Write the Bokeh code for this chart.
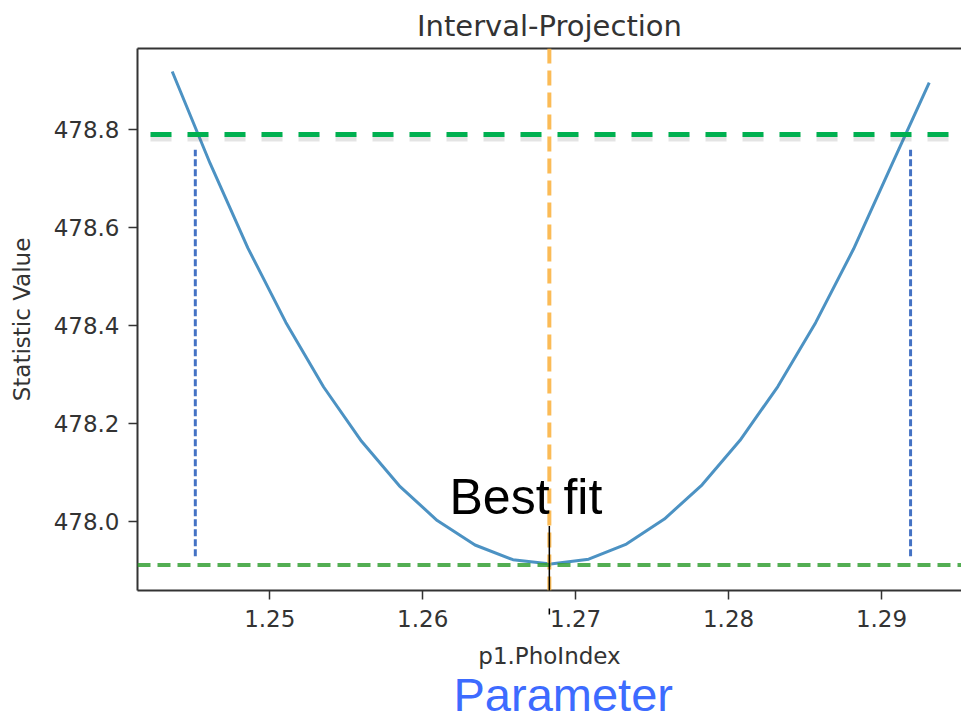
from bokeh.plotting import figure
from bokeh.models import (Span, Label, Arrow, NormalHead, LinearAxis,
                          FixedTicker, Range1d, Title)
from bokeh.embed import file_html
from bokeh.resources import INLINE

# Interval projection of the fit statistic over p1.PhoIndex
phoindex = [1.24362, 1.24610, 1.24857, 1.25105, 1.25352, 1.25600, 1.25847,
            1.26095, 1.26342, 1.26590, 1.26837, 1.27085, 1.27332, 1.27580,
            1.27827, 1.28075, 1.28322, 1.28570, 1.28817, 1.29065, 1.29312]
statistic = [478.919, 478.731, 478.558, 478.406, 478.274, 478.163, 478.072,
             478.001, 477.951, 477.921, 477.912, 477.922, 477.953, 478.004,
             478.074, 478.165, 478.275, 478.406, 478.556, 478.727, 478.896]

best_fit = 1.26828          # best-fit parameter value
stat_min = 477.910          # statistic at the best fit
stat_level = 478.790        # statistic level defining the interval
interval_lo = 1.24513       # lower interval bound
interval_hi = 1.29190       # upper interval bound
bound_bottom = 477.928
bound_top = 478.759

x_ticks = [1.25, 1.26, 1.27, 1.28, 1.29]
y_ticks = [478.0, 478.2, 478.4, 478.6, 478.8]

X0, X1 = 1.24135, 1.29523
Y0, Y1 = 477.858, 478.966

AX_FONT = "DejaVu Sans"
AX_COLOR = "#333333"

p = figure(width=961, height=721, output_backend="svg", toolbar_location=None,
           x_range=Range1d(X0, X1), y_range=Range1d(Y0, Y1),
           title="Interval-Projection",
           min_border_left=137, min_border_right=0, min_border_top=48,
           min_border_bottom=131)
p.outline_line_color = None
p.grid.visible = False
p.background_fill_color = "white"
p.border_fill_color = "white"

p.title.align = "center"
p.title.text_font = AX_FONT
p.title.text_font_style = "normal"
p.title.text_font_size = "29px"
p.title.text_color = AX_COLOR
p.title.standoff = 11

for ax in (p.xaxis[0], p.yaxis[0]):
    ax.axis_line_color = AX_COLOR
    ax.axis_line_width = 2
    ax.major_tick_line_color = AX_COLOR
    ax.major_tick_line_width = 1.5
    ax.major_tick_out = 9
    ax.major_tick_in = 0
    ax.minor_tick_line_color = None
    ax.major_label_text_font = AX_FONT
    ax.major_label_text_font_size = "23px"
    ax.major_label_text_color = AX_COLOR
    ax.axis_label_text_font = AX_FONT
    ax.axis_label_text_font_style = "normal"
    ax.axis_label_text_font_size = "23px"
    ax.axis_label_text_color = AX_COLOR

p.xaxis[0].ticker = FixedTicker(ticks=x_ticks)
p.yaxis[0].ticker = FixedTicker(ticks=y_ticks)
p.yaxis[0].formatter.use_scientific = False
p.yaxis[0].major_label_overrides = {t: f"{t:.1f}" for t in y_ticks}
p.xaxis[0].major_label_standoff = 10
p.yaxis[0].major_label_standoff = 9
p.xaxis[0].axis_label = "p1.PhoIndex"
p.yaxis[0].axis_label = "Statistic Value"
p.xaxis[0].axis_label_standoff = 13
p.yaxis[0].axis_label_standoff = 16

# top frame edge
top = LinearAxis(ticker=FixedTicker(ticks=[]), axis_line_color=AX_COLOR,
                 axis_line_width=2, major_tick_line_color=None,
                 minor_tick_line_color=None, major_label_text_font_size="0px")
p.add_layout(top, "above")

# caption under the x axis
p.add_layout(Title(text="Parameter", align="left", offset=316,
                   text_font="Liberation Sans", text_font_size="47px",
                   text_font_style="normal", text_color="#3d6bff",
                   standoff=-12), "below")

# best-fit marker
p.add_layout(Span(location=best_fit, dimension="height", line_color="#fbb444",
                  line_width=4, line_dash="15 7", line_alpha=0.9))

# minimum statistic level
p.add_layout(Span(location=stat_min, dimension="width", line_color="#35a035",
                  line_width=4, line_dash="13 7", line_alpha=0.85))

# statistic curve
p.line(phoindex, statistic, line_color="#1f77b4", line_width=3, line_alpha=0.8)

# interval level with a soft shadow
p.segment(x0=[1.2422], y0=[stat_level - 0.007], x1=[X1], y1=[stat_level - 0.007],
          line_color="#555555", line_alpha=0.16, line_width=7, line_dash="21 16")
p.segment(x0=[1.2422], y0=[stat_level], x1=[X1], y1=[stat_level],
          line_color="#00b050", line_width=5, line_dash="21 16")

# interval bounds
p.segment(x0=[interval_lo, interval_hi], y0=[bound_bottom, bound_bottom],
          x1=[interval_lo, interval_hi], y1=[bound_top, bound_top],
          line_color="#4472c4", line_width=3, line_dash="7 3")

p.add_layout(Arrow(end=NormalHead(size=6, fill_color="black", line_color="black"),
                   x_start=best_fit, y_start=477.990,
                   x_end=best_fit, y_end=477.809,
                   line_color="black", line_width=1.5))

p.add_layout(Label(x=1.26175, y=478.049, text="Best fit",
                   text_font="Liberation Sans", text_font_size="50px",
                   text_color="black", text_baseline="alphabetic"))

open("out.html", "w").write(file_html(p, INLINE))
